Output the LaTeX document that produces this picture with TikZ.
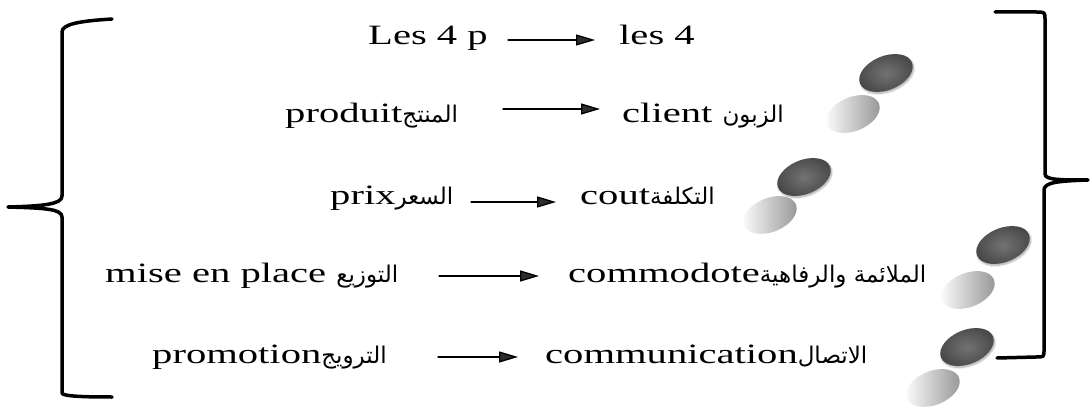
\documentclass[tikz,border=0pt]{standalone}
\usepackage{fontspec}
\setmainfont{Liberation Serif}[FakeStretch=1.45]
\newfontfamily\arabicfont[Script=Arabic]{DejaVu Sans}
\TeXXeTstate=1
\usetikzlibrary{arrows.meta}
\usetikzlibrary{shadows.blur}
\newcommand{\arab}[1]{{\arabicfont\fontsize{23}{24}\selectfont\beginR #1\endR}}

\begin{document}
\begin{tikzpicture}[x=1pt,y=1pt,line cap=round,line join=round,>={Triangle[length=19pt,width=11pt]},
    word/.style={inner sep=0pt, anchor=base west, font=\fontsize{28}{30}\selectfont},
    flow/.style={->, line width=1.3pt},
    brace/.style={line width=3.5pt},
    ball/.style={rotate=22, inner color=black!55, outer color=black!72,
        blur shadow={shadow blur steps=8, shadow opacity=35, shadow xshift=1pt, shadow yshift=-1.5pt}},
    glow/.style={rotate=22, left color=white, right color=black!42}]
    \useasboundingbox (0,0) rectangle (1090,410);

    % balls behind the text
    \foreach \x/\y in {886/337, 804/233, 1003/165, 967/63}
        \shade[shift={(\x,\y)}, ball] (0,0) ellipse [x radius=28, y radius=17];
    \foreach \x/\y in {853/296, 770/195, 968/120, 933/22}
        \shade[shift={(\x,\y)}, glow] (0,0) ellipse [x radius=28, y radius=17];

    % left brace
    \draw[brace] (112,391) .. controls (80,389) and (62,386) .. (62,378) -- (62,214)
        .. controls (62,206) and (45,204) .. (8,203) .. controls (45,202) and (62,201) .. (62,193)
        -- (62,17) .. controls (62,14) and (80,13) .. (112,13);

    % right brace
    \draw[brace] (995,398) -- (1036,398) .. controls (1045,398) .. (1045,390) -- (1045,236)
        .. controls (1045,230) and (1060,230) .. (1088,230) .. controls (1060,229) and (1044,228) .. (1044,220)
        -- (1044,60) .. controls (1044,53) .. (1036,53) -- (997,52);

    % the 4 p
    \node[word] (p0) at (368,365) {Les 4 p};
    \node[word] (p1) at (285,287) {produit\arab{المنتج}};
    \node[word] (p2) at (330,205) {prix\arab{السعر}};
    \node[word] (p3) at (105,127) {mise en place \arab{التوزيع}};
    \node[word] (p4) at (152,47) {promotion\arab{الترويج}};

    % the 4 c
    \node[word] (c0) at (619,365) {les 4};
    \node[word] (c1) at (622,287) {client \arab{الزبون}};
    \node[word] (c2) at (580,205) {cout\arab{التكلفة}};
    \node[word] (c3) at (568,127) {commodote\arab{الملائمة والرفاهية}};
    \node[word] (c4) at (545,47) {communication\arab{الاتصال}};

    % arrows between the columns
    \coordinate (a0) at (508,370); \coordinate (b0) at (595,370);
    \coordinate (a1) at (503,301); \coordinate (b1) at (600,301);
    \coordinate (a2) at (471,208); \coordinate (b2) at (556,208);
    \coordinate (a3) at (439,134); \coordinate (b3) at (539,134);
    \coordinate (a4) at (438,53);  \coordinate (b4) at (518,53);
    \foreach \i in {0,...,4}
        \draw[flow] (a\i) -- (b\i);
\end{tikzpicture}
\end{document}
